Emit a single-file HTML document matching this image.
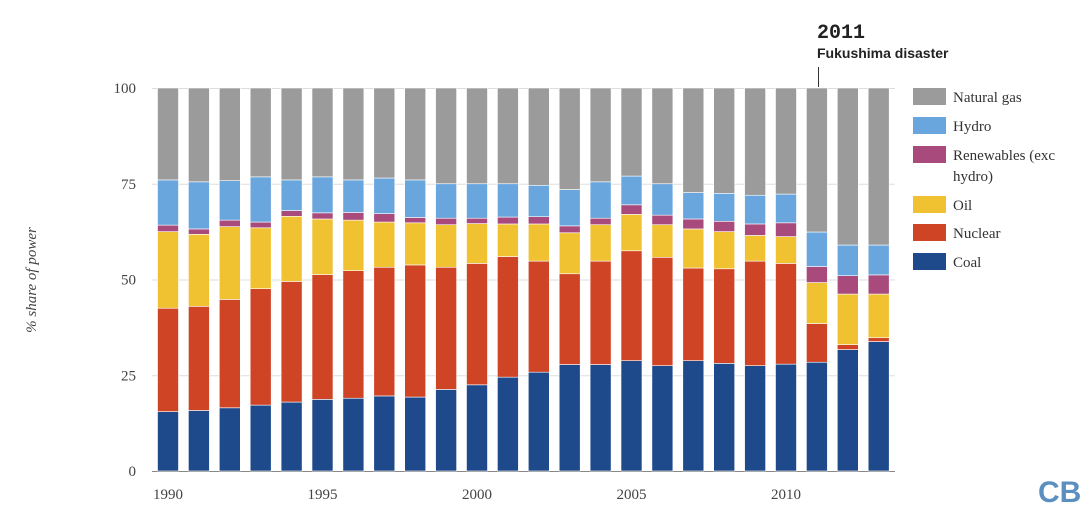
<!DOCTYPE html>
<html><head><meta charset="utf-8"><style>
body{margin:0;background:#fff;width:1080px;height:512px;overflow:hidden;font-family:"Liberation Serif",serif}
</style></head><body>
<svg id="chart" width="1080" height="512" xmlns="http://www.w3.org/2000/svg">
<g id="grid"></g>
<g id="bars"></g>
<g id="axes"></g>
<text x="36" y="280" transform="rotate(-90 36 280)" text-anchor="middle" font-style="italic" font-size="15" fill="#444">% share of power</text>
<text x="817" y="38" font-family="Liberation Mono, monospace" font-weight="bold" font-size="20" fill="#222">2011</text>
<text x="817" y="58" font-family="Liberation Sans, sans-serif" font-weight="bold" font-size="14" fill="#222">Fukushima disaster</text>
<line x1="818.5" y1="67" x2="818.5" y2="87" stroke="#333" stroke-width="1"/>
<g id="legend"></g>
<text x="1038" y="502" font-family="Liberation Sans, sans-serif" font-weight="bold" font-size="30" fill="#5b8fc0">CB</text>
</svg>
<script>
const years=[1990,1991,1992,1993,1994,1995,1996,1997,1998,1999,2000,2001,2002,2003,2004,2005,2006,2007,2008,2009,2010,2011,2012,2013];
const coal=[15.5,15.8,16.5,17.2,18,18.7,19,19.6,19.3,21.3,22.5,24.5,25.8,27.8,27.8,28.8,27.5,28.8,28.1,27.5,27.9,28.4,31.7,33.8];
const nuclear=[27,27.2,28.3,30.4,31.5,32.6,33.3,33.6,34.5,31.9,31.7,31.5,29,23.7,27,28.7,28.3,24.2,24.7,27.3,26.3,10.1,1.3,1];
const oil=[20,18.8,19,15.9,17,14.5,13.2,11.8,11,11.1,10.4,8.5,9.7,10.7,9.5,9.5,8.5,10.2,9.7,6.7,7,10.7,13.2,11.4];
const renewables=[1.7,1.4,1.7,1.5,1.5,1.6,2,2.2,1.4,1.7,1.4,1.8,1.9,1.8,1.7,2.5,2.5,2.6,2.7,3,3.6,4.2,4.8,5];
const hydro=[11.8,12.3,10.3,11.8,8,9.4,8.5,9.3,9.8,9,9,8.7,8.2,9.5,9.5,7.5,8.2,6.9,7.3,7.5,7.5,9,8,7.8];
const yTicks=[0,25,50,75,100];
const xTickYears=[1990,1995,2000,2005,2010];
const seriesNames=["Coal","Nuclear","Oil","Renewables (exc hydro)","Hydro","Natural gas"];
const colors=["#1e4a8c","#d04426","#f0c232","#a84b7c","#6aa6de","#9b9b9b"];
const NS="http://www.w3.org/2000/svg";
const y0=471,y1=88,xs=168,step=30.9,bw=21;
const yS=v=>y0-(y0-y1)*v/100;
const xS=yr=>xs+(yr-years[0])*step;
function mk(t,a,p){const e=document.createElementNS(NS,t);for(const k in a)e.setAttribute(k,a[k]);p.appendChild(e);return e;}
const grid=document.getElementById('grid'),axes=document.getElementById('axes'),bars=document.getElementById('bars'),leg=document.getElementById('legend');
yTicks.forEach(v=>{
 const l=mk('line',{x1:152,x2:895,y1:yS(v)+0.5,y2:yS(v)+0.5,stroke:v===0?'#888':'#ddd','stroke-width':1},grid);
 
 
 const t=mk('text',{x:136,y:yS(v)+5,'text-anchor':'end','font-size':15,fill:'#444'},axes);t.textContent=v;
 
 
});
xTickYears.forEach(yr=>{
 const t=mk('text',{x:xS(yr),y:499,'text-anchor':'middle','font-size':15,fill:'#444'},axes);t.textContent=yr;
 
 
});
years.forEach((yr,i)=>{
 const vals=[coal[i],nuclear[i],oil[i],renewables[i],hydro[i]];
 const sumv=vals.reduce((a,b)=>a+b,0);
 vals.push(100-sumv);
 let c=0;
 vals.forEach((v,j)=>{
  const r=mk('rect',{x:xS(yr)-bw/2,y:yS(c+v),width:bw,height:Math.max(0,yS(c)-yS(c+v)),fill:colors[j],stroke:'#fff','stroke-width':0.6},bars);
  
  
  c+=v;
 });
});
const legOrder=[5,4,3,2,1,0];
const legY=[88,117,146,196,224,253];
legOrder.forEach((s,k)=>{
 const r=mk('rect',{x:913,y:legY[k],width:33,height:17,fill:colors[s]},leg);
 
 
 const t=mk('text',{x:953,y:legY[k]+14,'font-size':15,fill:'#333'},leg);
 
 
 if(s===3){t.textContent='Renewables (exc';const t2=mk('text',{x:953,y:legY[k]+35,'font-size':15,fill:'#333'},leg);t2.textContent='hydro)';
  
  }
 else t.textContent=seriesNames[s];
});
</script>
</body></html>
